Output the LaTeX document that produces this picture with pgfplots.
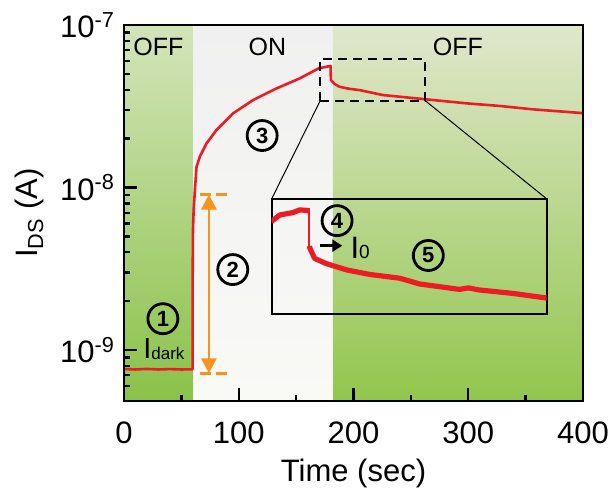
\documentclass[border=0pt]{standalone}
\usepackage{fontspec}
\setmainfont{Liberation Sans}
\usepackage{pgfplots}
\pgfplotsset{compat=1.18}
\usetikzlibrary{arrows.meta}

\definecolor{curve}{RGB}{237,28,36}
\definecolor{span}{RGB}{247,148,29}
\definecolor{offtopL}{RGB}{212,228,186}
\definecolor{offbotL}{RGB}{138,194,72}
\definecolor{offtopR}{RGB}{224,231,204}
\definecolor{offbotR}{RGB}{146,198,78}
\definecolor{ontop}{RGB}{240,240,240}
\definecolor{onbot}{RGB}{249,249,246}

\begin{document}
\begin{tikzpicture}[
  circ/.style={circle, draw, line width=1.4pt, minimum size=15pt, inner sep=0pt,
               font=\fontsize{11}{12}\selectfont\bfseries}]
\begin{axis}[
  name=main, at={(0,0)}, anchor=south west,
  scale only axis, width=229.5pt, height=188pt,
  xmin=0, xmax=400, ymode=log, ymin=4.86e-10, ymax=1e-7,
  axis on top,
  axis line style={line width=1.3pt},
  tick align=inside, xtick pos=bottom, ytick pos=left,
  xtick={0,100,200,300,400}, xticklabels={0,100,200,300,400},
  minor xtick={50,150,250,350},
  ytick={1e-9,1e-8,1e-7},
  yticklabels={10\textsuperscript{-9},10\textsuperscript{-8},10\textsuperscript{-7}},
  minor ytick={6e-10,7e-10,8e-10,9e-10,2e-9,3e-9,4e-9,5e-9,6e-9,7e-9,8e-9,9e-9,
               2e-8,3e-8,4e-8,5e-8,6e-8,7e-8,8e-8,9e-8},
  major tick length=6.5pt, minor tick length=3pt,
  every tick/.style={line width=1.2pt, black},
  tick label style={font=\fontsize{15.5}{18}\selectfont},
  xticklabel style={yshift=-7pt},
  yticklabel style={xshift=-1pt},
  label style={font=\fontsize{15.5}{18}\selectfont},
  xlabel={Time (sec)}, ylabel={I\textsubscript{DS} (A)},
  xlabel style={at={(axis description cs:0.5,-0.215)}, anchor=base},
  ylabel style={at={(axis description cs:-0.205,0.5)}, anchor=center},
]
% illumination phases
\shade[top color=offtopL, bottom color=offbotL] (axis cs:0,4.86e-10) rectangle (axis cs:60.3,1e-7);
\shade[top color=ontop, bottom color=onbot] (axis cs:60.3,4.86e-10) rectangle (axis cs:182,1e-7);
\shade[top color=offtopR, bottom color=offbotR] (axis cs:182,4.86e-10) rectangle (axis cs:400,1e-7);

% drain current
\addplot[curve, line width=1.3pt, line join=round, no marks] coordinates {
(0,7.65e-10)(10,7.6e-10)(20,7.66e-10)(30,7.6e-10)(40,7.64e-10)(50,7.6e-10)(59.8,7.62e-10)
(59.8,2.5e-9)(60.1,5.47e-9)(60.7,7.28e-9)(61.8,9.66e-9)(63.2,1.34e-8)(66.1,1.55e-8)
(71.9,1.87e-8)(80.6,2.26e-8)(95.0,2.86e-8)(112.4,3.45e-8)(132.8,4.07e-8)(153.0,4.69e-8)
(169.8,5.42e-8)(180,5.6e-8)(180.3,4.59e-8)(183.5,4.34e-8)(187.8,4.17e-8)(196.5,4.05e-8)
(205.2,3.98e-8)(225.5,3.71e-8)(263.2,3.49e-8)(298,3.30e-8)(327,3.18e-8)(356,3.03e-8)
(400,2.87e-8)};

\node[font=\fontsize{12.5}{14}\selectfont] at (axis cs:30,7.32e-8) {OFF};
\node[font=\fontsize{12.5}{14}\selectfont] at (axis cs:125,7.32e-8) {ON};
\node[font=\fontsize{12.5}{14}\selectfont] at (axis cs:291,7.32e-8) {OFF};

% photo-response span
\draw[span, line width=1.3pt,
  {Triangle[width=7.5pt,length=7.5pt]}-{Triangle[width=7.5pt,length=7.5pt]}]
  (axis cs:74,9.06e-9) -- (axis cs:74,7.2e-10);
\draw[span, line width=1.3pt, dash pattern=on 5.5pt off 2.5pt]
  (axis cs:66.1,9.06e-9) -- (axis cs:89.6,9.06e-9);
\draw[span, line width=1.3pt, dash pattern=on 5.5pt off 2.5pt]
  (axis cs:66.1,7.2e-10) -- (axis cs:89.6,7.2e-10);

\node[circ] at (axis cs:33.9,1.56e-9) {1};
\node[anchor=base west, inner sep=0pt, font=\fontsize{14.5}{16}\selectfont]
  at (axis cs:16.5,8.93e-10) {I{\fontsize{8.5}{9}\selectfont\raisebox{-0.5pt}{dark}}};
\node[circ] at (axis cs:94.8,3.13e-9) {2};
\node[circ] at (axis cs:120.4,2.09e-8) {3};
\node[circ] at (axis cs:185.7,6.26e-9) {4};
\node[circ] at (axis cs:265.2,3.82e-9) {5};

\draw[line width=1.2pt, -{Triangle[width=6pt,length=5pt]}]
  (axis cs:170.4,4.39e-9) -- (axis cs:190.2,4.39e-9);
\node[anchor=base west, inner sep=0pt, font=\fontsize{15.5}{17}\selectfont]
  at (axis cs:197.1,3.68e-9) {I{\fontsize{9.5}{10}\selectfont 0}};

% zoom window
\draw[line width=1pt, dash pattern=on 4.5pt off 3pt]
  (axis cs:171,3.42e-8) rectangle (axis cs:262.6,6.18e-8);
\coordinate (inSW) at (axis cs:128.7,1.67e-9);
\coordinate (dL) at (axis cs:171,3.42e-8);
\coordinate (dR) at (axis cs:262.6,3.42e-8);
\end{axis}

% magnified view of the turn-off
\begin{axis}[
  name=inset, at={(inSW)}, anchor=south west,
  scale only axis, width=137.5pt, height=57.5pt,
  xmin=171, xmax=262.6, ymode=log, ymin=3.42e-8, ymax=6.18e-8,
  xtick=\empty, ytick=\empty, yminorticks=false,
  axis line style={line width=1pt},
]
\addplot[curve, line width=2.6pt, line join=round, no marks] coordinates {
(170.9,5.50e-8)(173.7,5.69e-8)(178.1,5.76e-8)(180.3,5.84e-8)(183.7,5.82e-8)};
\addplot[curve, line width=1.2pt, no marks] coordinates {
(183.5,5.82e-8)(183.5,4.85e-8)};
\addplot[curve, line width=2.6pt, line join=round, no marks] coordinates {
(183.6,4.85e-8)(183.7,4.80e-8)(185.3,4.55e-8)(189.2,4.43e-8)(195.9,4.29e-8)(203.6,4.19e-8)
(213.6,4.11e-8)(220.3,3.99e-8)(233.6,3.88e-8)(236.5,3.91e-8)(240,3.87e-8)(251.4,3.80e-8)
(262.7,3.71e-8)};
\end{axis}

\draw[line width=0.5pt] (dL) -- (inset.north west) (dR) -- (inset.north east);

\pgfresetboundingbox
\useasboundingbox (-62pt,-47pt) rectangle (245.5pt,200.5pt);
\end{tikzpicture}
\end{document}
